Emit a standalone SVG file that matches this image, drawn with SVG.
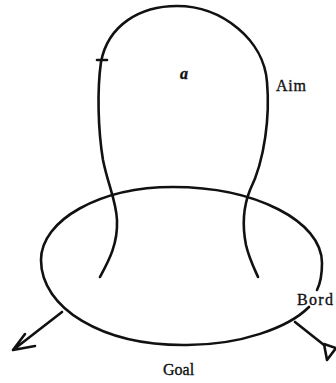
<svg xmlns="http://www.w3.org/2000/svg" width="336" height="383" viewBox="0 0 336 383">
  <style>
    .ln { fill: none; stroke: #111; stroke-width: 2.6; stroke-linecap: round; stroke-linejoin: round; }
    .lbl { font-family: "Liberation Serif", "DejaVu Serif", serif; fill: #111; stroke: #111; stroke-width: 0.35; font-size: 16px; }
  </style>
  <rect width="336" height="383" fill="#fff"/>
  <g id="aim">
    <path class="ln" d="M 100 277 C 108 262, 118 245, 117 220 C 116 200, 108 185, 103 160 C 98 130, 97 90, 101 62 C 108 25, 140 6, 177 6 C 222 6, 264 40, 267 82 C 270 115, 265 160, 250 190 C 244 205, 242 225, 246 245 C 249 258, 254 268, 258 277"/>
    <path class="ln" d="M 97 60 L 107 60" stroke-width="1.2"/>
    <text class="lbl" x="180" y="79" font-size="12" font-style="italic" font-weight="bold">a</text>
    <text class="lbl" x="276" y="91" textLength="30">Aim</text>
  </g>
  <g id="goal">
    <path class="ln" d="M 309 307 C 288 328, 240 345, 187 345 C 102 346, 41 308, 41 260 C 41 220, 100 187, 173 187 C 255 187, 322 221, 322 263 C 322 275, 320 284, 317 290"/>
    <text class="lbl" x="163" y="375">Goal</text>
  </g>
  <g id="bord">
    <text class="lbl" x="297" y="305" textLength="36">Bord</text>
  </g>
  <g id="connectors">
    <path class="ln" d="M 62 312 L 13 350 M 25 334 L 13 350 L 35 346"/>
    <path class="ln" d="M 295 322 L 324 345"/>
    <path class="ln" d="M 324 344 L 336 348 L 327 360 Z"/>
  </g>
</svg>
